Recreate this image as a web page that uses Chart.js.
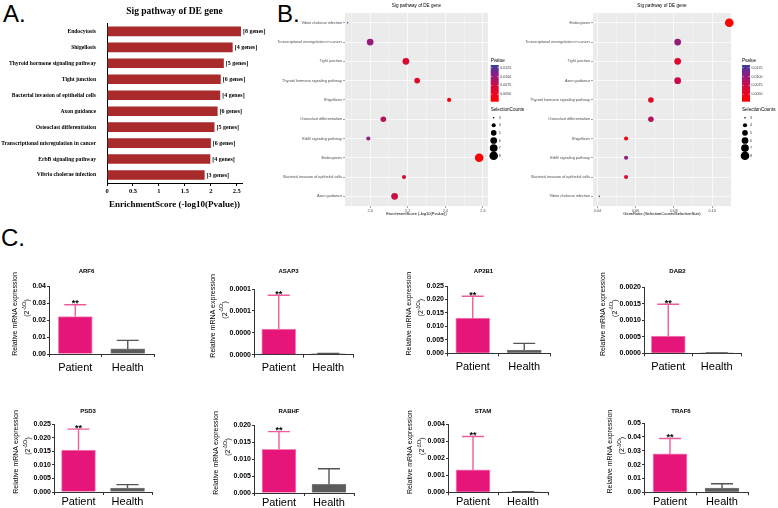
<!DOCTYPE html>
<html>
<head>
<meta charset="utf-8">
<script src="https://cdn.jsdelivr.net/npm/chart.js@4.4.0/dist/chart.umd.min.js"></script>
<style>
body { margin: 0; background: #fff; width: 778px; height: 508px; position: relative; overflow: hidden; font-family: "Liberation Sans", Arial, sans-serif; }
canvas { position: absolute; }
.tag { position: absolute; font-size: 24px; color: #000; line-height: 1; }
</style>
</head>
<body>
<div class="tag" style="left:3px;top:2px">A.</div>
<div class="tag" style="left:277px;top:2px">B.</div>
<div class="tag" style="left:1px;top:226px">C.</div>
<canvas id="chartA" width="270" height="215" style="left:0;top:0"></canvas>
<canvas id="chartB1" width="265" height="218" style="left:265px;top:0"></canvas>
<canvas id="chartB2" width="258" height="218" style="left:520px;top:0"></canvas>
<div id="cells"></div>
<script>
// pathway enrichment (panels A and B)
const pathways = ['Endocytosis', 'Shigellosis', 'Thyroid hormone signaling pathway', 'Tight junction',
    'Bacterial invasion of epithelial cells', 'Axon guidance', 'Osteoclast differentiation',
    'Transcriptional misregulation in cancer', 'ErbB signaling pathway', 'Vibrio cholerae infection'];
const enrichScore = [2.58, 2.42, 2.25, 2.19, 2.18, 2.13, 2.07, 2.00, 1.99, 1.88];
const geneCounts = [8, 4, 5, 6, 4, 6, 5, 6, 4, 3];
const pValues = [0.0026, 0.0038, 0.0056, 0.0065, 0.0066, 0.0074, 0.0085, 0.0100, 0.0102, 0.0132];
const geneRatio = [0.109, 0.055, 0.068, 0.082, 0.055, 0.082, 0.068, 0.082, 0.055, 0.041];
const enrichOrder = ['Vibrio cholerae infection', 'Transcriptional misregulation in cancer', 'Tight junction',
    'Thyroid hormone signaling pathway', 'Shigellosis', 'Osteoclast differentiation', 'ErbB signaling pathway',
    'Endocytosis', 'Bacterial invasion of epithelial cells', 'Axon guidance'];
const ratioOrder = ['Endocytosis', 'Transcriptional misregulation in cancer', 'Tight junction', 'Axon guidance',
    'Thyroid hormone signaling pathway', 'Osteoclast differentiation', 'Shigellosis', 'ErbB signaling pathway',
    'Bacterial invasion of epithelial cells', 'Vibrio cholerae infection'];
const scoreTicks = [0, 0.5, 1, 1.5, 2, 2.5];
const enrichTicks = [2.0, 2.2, 2.4, 2.6];
const enrichTickLabels = ['2.0', '2.2', '2.4', '2.6'];
const enrichMinor = [1.9, 2.1, 2.3, 2.5];
const ratioTicks = [0.04, 0.06, 0.08, 0.10];
const ratioTickLabels = ['0.04', '0.06', '0.08', '0.10'];
const ratioMinor = [0.05, 0.07, 0.09];
const pLegendTicks = [0.0125, 0.0100, 0.0075, 0.0050];
const pLegendLabels = ['0.0125', '0.0100', '0.0075', '0.0050'];
const countLegend = [3, 4, 5, 6, 7, 8];

// qPCR (panel C)
const genes = ['ARF6', 'ASAP3', 'AP2B1', 'DAB2', 'PSD3', 'RABHF', 'STAM', 'TRAF6'];
const groups = ['Patient', 'Health'];
const patientMean = [0.022, 0.0000584, 0.0131, 0.00052, 0.0154, 0.01285, 0.00131, 0.0277];
const patientSD = [0.007, 0.0000773, 0.0081, 0.00096, 0.0077, 0.0052, 0.00196, 0.0111];
const healthMean = [0.003, 0.000002, 0.0012, 0.00001, 0.0014, 0.00255, 0.00002, 0.0031];
const healthSD = [0.005, 0.000001, 0.0025, 0.000004, 0.0013, 0.0046, 0.00001, 0.0031];
const cTickValues = [
    [0, 0.01, 0.02, 0.03, 0.04],
    [0, 0.00005, 0.0001, 0.00015],
    [0, 0.005, 0.01, 0.015, 0.02, 0.025],
    [0, 0.0005, 0.001, 0.0015, 0.002],
    [0, 0.005, 0.01, 0.015, 0.02, 0.025],
    [0, 0.005, 0.01, 0.015, 0.02],
    [0, 0.001, 0.002, 0.003, 0.004],
    [0, 0.01, 0.02, 0.03, 0.04, 0.05]
];
const cTickLabels = [
    ['0.00', '0.01', '0.02', '0.03', '0.04'],
    ['0.0000', '0.0000', '0.0001', '0.0001'],
    ['0.000', '0.005', '0.010', '0.015', '0.020', '0.025'],
    ['0.0000', '0.0005', '0.0010', '0.0015', '0.0020'],
    ['0.000', '0.005', '0.010', '0.015', '0.020', '0.025'],
    ['0.000', '0.005', '0.010', '0.015', '0.020'],
    ['0.000', '0.001', '0.002', '0.003', '0.004'],
    ['0.00', '0.01', '0.02', '0.03', '0.04', '0.05']
];

const SANS = '"Liberation Sans", Arial, sans-serif';
const SERIF = '"Liberation Serif", "Times New Roman", serif';
Chart.defaults.font.family = SANS;
Chart.defaults.color = '#000';
Chart.defaults.animation = false;
Chart.defaults.responsive = false;
Chart.defaults.plugins.legend.display = false;
Chart.defaults.plugins.tooltip.enabled = false;

// ---------- Panel A ----------
const geneLabels = {
    id: 'geneLabels',
    afterDatasetsDraw(chart) {
        const ctx = chart.ctx;
        ctx.save();
        ctx.font = 'bold 6px ' + SERIF;
        ctx.fillStyle = '#000';
        ctx.textBaseline = 'middle';
        chart.getDatasetMeta(0).data.forEach((bar, i) => {
            ctx.fillText('[' + geneCounts[i] + ' genes]', bar.x + 2, bar.y + 0.5);
        });
        ctx.restore();
    }
};

new Chart(document.getElementById('chartA'), {
    type: 'bar',
    data: {
        labels: pathways,
        datasets: [{ data: enrichScore, backgroundColor: '#a82a2a', barPercentage: 0.6, categoryPercentage: 1 }]
    },
    options: {
        indexAxis: 'y',
        layout: { padding: { top: 0, right: 28, bottom: 0, left: 0 } },
        plugins: {
            title: {
                display: true, text: 'Sig pathway of DE gene', color: '#000', fullSize: false,
                font: { family: SERIF, size: 9.5, weight: 'bold' },
                padding: { top: 6, bottom: 6 }
            }
        },
        scales: {
            x: {
                min: 0, max: 2.6,
                afterBuildTicks: s => { s.ticks = scoreTicks.map(v => ({ value: v })); },
                afterFit: s => { s.height = 32; },
                ticks: { font: { family: SERIF, size: 6.5, weight: 'bold' }, padding: 1, color: '#000', callback: v => String(v) },
                grid: { drawOnChartArea: false, tickLength: 3, color: '#000' },
                border: { color: '#000' },
                title: { display: true, text: 'EnrichmentScore (-log10(Pvalue))', color: '#000',
                    font: { family: SERIF, size: 9, weight: 'bold' }, padding: { top: 0, bottom: 5 } }
            },
            y: {
                afterFit: s => { s.width = 107; },
                ticks: { font: { family: SERIF, size: 5.6, weight: 'bold' }, color: '#000', padding: 3, autoSkip: false },
                grid: { display: false },
                border: { color: '#000' }
            }
        }
    },
    plugins: [geneLabels]
});

// ---------- Panel B ----------
const P_TOP = 0.01326, P_BOT = 0.00291;
function pColor(p) {
    const t = Math.min(1, Math.max(0, (p - P_BOT) / (P_TOP - P_BOT)));
    const stops = [[0, [255, 0, 0]], [0.35, [220, 8, 50]], [0.6, [172, 20, 104]], [0.75, [136, 30, 136]], [1, [58, 62, 155]]];
    for (let k = 1; k < stops.length; k++) {
        if (t <= stops[k][0]) {
            const [t0, c0] = stops[k - 1], [t1, c1] = stops[k];
            const f = (t - t0) / (t1 - t0);
            return 'rgb(' + c0.map((c, j) => Math.round(c + (c1[j] - c) * f)).join(',') + ')';
        }
    }
    return 'rgb(58,62,155)';
}
function sizeFor(n) {
    const r0 = 0.8, r1 = 4.3;
    return Math.sqrt(r0 * r0 + (n - 3) / 5 * (r1 * r1 - r0 * r0));
}

const panelBg = {
    id: 'panelBg',
    beforeDraw(chart) {
        const a = chart.chartArea, ctx = chart.ctx;
        ctx.save();
        ctx.fillStyle = '#ebebeb';
        ctx.fillRect(a.left, a.top, a.right - a.left, a.bottom - a.top);
        ctx.restore();
    }
};

const pvLegend = {
    id: 'pvLegend',
    afterDraw(chart, args, o) {
        const ctx = chart.ctx, x = o.x;
        const top = 65, bot = 101.7, w = 8;
        ctx.save();
        ctx.fillStyle = '#000';
        ctx.textBaseline = 'middle';
        ctx.font = '4.6px ' + SANS;
        ctx.fillText('Pvalue', x, 61);
        const g = ctx.createLinearGradient(0, top, 0, bot);
        for (let k = 0; k <= 20; k++) g.addColorStop(k / 20, pColor(P_TOP - (P_TOP - P_BOT) * k / 20));
        ctx.fillStyle = g;
        ctx.fillRect(x, top, w, bot - top);
        ctx.font = '3.6px ' + SANS;
        pLegendTicks.forEach((p, i) => {
            const y = top + (P_TOP - p) / (P_TOP - P_BOT) * (bot - top);
            ctx.strokeStyle = '#fff';
            ctx.lineWidth = 0.5;
            ctx.beginPath();
            ctx.moveTo(x, y); ctx.lineTo(x + 1.5, y);
            ctx.moveTo(x + w - 1.5, y); ctx.lineTo(x + w, y);
            ctx.stroke();
            ctx.fillStyle = '#333';
            ctx.fillText(pLegendLabels[i], x + w + 1.5, y);
        });
        ctx.fillStyle = '#000';
        ctx.font = '4.6px ' + SANS;
        ctx.fillText('SelectionCounts', x, 110);
        ctx.font = '3.6px ' + SANS;
        countLegend.forEach((n, i) => {
            const y = 117.7 + i * 7.6;
            ctx.fillStyle = '#000';
            ctx.beginPath();
            ctx.arc(x + 3, y, sizeFor(n), 0, Math.PI * 2);
            ctx.fill();
            ctx.fillStyle = '#333';
            ctx.fillText(String(n), x + 8, y);
        });
        ctx.restore();
    }
};

function bubbleChart(id, order, xValues, xMin, xMax, majors, majorLabels, minors, xTitle, yWidth, padRight, legendX) {
    const idx = order.map(name => pathways.indexOf(name));
    const allTicks = majors.concat(minors).sort((a, b) => a - b);
    new Chart(document.getElementById(id), {
        type: 'bubble',
        data: {
            labels: order,
            datasets: [{
                data: idx.map(i => ({ x: xValues[i], y: pathways[i], r: sizeFor(geneCounts[i]) })),
                backgroundColor: idx.map(i => pColor(pValues[i])),
                borderWidth: 0,
                clip: false
            }]
        },
        options: {
            layout: { padding: { top: 0, right: padRight, bottom: 0, left: 0 } },
            plugins: {
                title: {
                    display: true, text: 'Sig pathway of DE gene', fullSize: false, color: '#000',
                    font: { size: 4.6, weight: 'normal' }, padding: { top: 3.3, bottom: 4.3 }
                },
                pvLegend: { x: legendX }
            },
            scales: {
                x: {
                    type: 'linear', min: xMin, max: xMax,
                    afterBuildTicks: s => { s.ticks = allTicks.map(v => ({ value: v })); },
                    afterFit: s => { s.height = 12; },
                    ticks: {
                        font: { size: 3.8 }, color: '#4d4d4d', padding: 0.5, autoSkip: false, maxRotation: 0,
                        callback: v => { const k = majors.indexOf(v); return k < 0 ? '' : majorLabels[k]; }
                    },
                    grid: {
                        color: '#fff',
                        lineWidth: c => (c.tick && majors.includes(c.tick.value)) ? 0.7 : 0.35,
                        tickColor: c => (c.tick && majors.includes(c.tick.value)) ? '#444' : 'rgba(0,0,0,0)',
                        tickLength: 2, tickWidth: 0.5
                    },
                    border: { display: false },
                    title: { display: true, text: xTitle, color: '#000', font: { size: 4 }, padding: { top: 0, bottom: 1.6 } }
                },
                y: {
                    type: 'category', offset: true,
                    afterFit: s => { s.width = yWidth; },
                    ticks: { font: { size: 3.8 }, color: '#4d4d4d', padding: 1, autoSkip: false },
                    grid: { offset: false, color: '#fff', lineWidth: 0.7, tickColor: '#444', tickLength: 2, tickWidth: 0.5 },
                    border: { display: false }
                }
            }
        },
        plugins: [panelBg, pvLegend]
    });
}

bubbleChart('chartB1', enrichOrder, enrichScore, 1.866, 2.627, enrichTicks, enrichTickLabels, enrichMinor,
    'EnrichmentScore (-log10(Pvalue))', 80, 265 - 223, 225.7);
bubbleChart('chartB2', ratioOrder, geneRatio, 0.0377, 0.1099, ratioTicks, ratioTickLabels, ratioMinor,
    'GeneRatio (SelectionCounts/SelectionSize)', 73, 258 - 211, 222);

// ---------- Panel C ----------
const cellAreas = [
    { l: 49, t: 286, r: 154, b: 354 },
    { l: 254, t: 289, r: 353, b: 354.7 },
    { l: 447, t: 286, r: 550, b: 353.3 },
    { l: 644, t: 287, r: 741, b: 353.3 },
    { l: 54, t: 424, r: 152, b: 492 },
    { l: 254, t: 425, r: 354, b: 493 },
    { l: 448, t: 424, r: 548, b: 492.3 },
    { l: 644, t: 423, r: 748, b: 492.3 }
];
const colLeft = [0, 195, 390, 585];
const rowTop = [255, 395];
const rowHeight = [125, 113];
const rowTitleY = [271, 411.5];
const rowLabelPad = [4, 0];

const errorBars = {
    id: 'errorBars',
    afterDatasetsDraw(chart, args, o) {
        const ctx = chart.ctx, y = chart.scales.y;
        chart.getDatasetMeta(0).data.forEach((bar, j) => {
            const top = y.getPixelForValue(o.means[j] + o.errs[j]);
            ctx.save();
            ctx.strokeStyle = o.colors[j];
            ctx.lineWidth = 1.4;
            ctx.beginPath();
            ctx.moveTo(bar.x, bar.y);
            ctx.lineTo(bar.x, top);
            ctx.moveTo(bar.x - 11, top);
            ctx.lineTo(bar.x + 11, top);
            ctx.stroke();
            if (j === 0) {
                ctx.fillStyle = '#000';
                ctx.font = 'bold 9px ' + SANS;
                ctx.textAlign = 'center';
                ctx.textBaseline = 'alphabetic';
                ctx.fillText('**', bar.x, top + 1.5);
            }
            ctx.restore();
        });
    }
};

const cellText = {
    id: 'cellText',
    afterDraw(chart, args, o) {
        const ctx = chart.ctx, a = chart.chartArea;
        ctx.save();
        ctx.fillStyle = '#000';
        ctx.textAlign = 'center';
        ctx.textBaseline = 'middle';
        ctx.font = 'bold 6px ' + SANS;
        ctx.fillText(o.title, (a.left + a.right) / 2 - 15, o.titleY);
        // y-axis title, two rotated lines
        ctx.font = 'bold 7px ' + SANS;
        const maxW = Math.max(...o.tickLabels.map(s => ctx.measureText(s).width));
        const x1 = a.left - 4 - maxW - 16;
        const x2 = x1 + 12;
        const cy = (a.top + a.bottom) / 2;
        ctx.font = '7px ' + SANS;
        ctx.translate(x1, cy - 6);
        ctx.rotate(-Math.PI / 2);
        ctx.fillText('Relative mRNA expression', 0, 0);
        ctx.rotate(Math.PI / 2);
        ctx.translate(x2 - x1, -6);
        ctx.rotate(-Math.PI / 2);
        ctx.textAlign = 'left';
        ctx.font = '7px ' + SANS;
        const wa = ctx.measureText('(2').width, wc = ctx.measureText(')').width;
        ctx.font = '4.5px ' + SANS;
        const wb = ctx.measureText('-ΔCt').width;
        let sx = -(wa + wb + wc) / 2;
        ctx.font = '7px ' + SANS;
        ctx.fillText('(2', sx, 0);
        sx += wa;
        ctx.font = '4.5px ' + SANS;
        ctx.fillText('-ΔCt', sx, -2.6);
        sx += wb;
        ctx.font = '7px ' + SANS;
        ctx.fillText(')', sx, 0);
        ctx.restore();
    }
};

genes.forEach((gene, g) => {
    const col = g % 4, row = Math.floor(g / 4);
    const a = cellAreas[g];
    const left = colLeft[col], top = rowTop[row];
    const width = col === 3 ? 193 : 195, height = rowHeight[row];
    const cv = document.createElement('canvas');
    cv.width = width;
    cv.height = height;
    cv.style.left = left + 'px';
    cv.style.top = top + 'px';
    document.getElementById('cells').appendChild(cv);
    new Chart(cv, {
        type: 'bar',
        data: {
            labels: groups,
            datasets: [{
                data: [patientMean[g], healthMean[g]],
                backgroundColor: ['#e5157a', '#5b5b5b'],
                borderColor: ['#f38ab8', '#7a7a7a'],
                borderWidth: 1,
                barThickness: 34
            }]
        },
        options: {
            layout: { padding: { top: a.t - top, right: left + width - a.r, bottom: 0, left: 0 } },
            plugins: {
                errorBars: { means: [patientMean[g], healthMean[g]], errs: [patientSD[g], healthSD[g]], colors: ['#ef5c9c', '#555'] },
                cellText: { title: gene, titleY: rowTitleY[row] - top, tickLabels: cTickLabels[g] }
            },
            scales: {
                x: {
                    afterFit: s => { s.height = top + height - a.b; },
                    ticks: { font: { size: 11 }, color: '#000', padding: rowLabelPad[row] },
                    grid: { drawOnChartArea: false, tickLength: 3, color: '#333' },
                    border: { color: '#333', width: 1 }
                },
                y: {
                    min: 0, max: cTickValues[g][cTickValues[g].length - 1],
                    afterBuildTicks: s => { s.ticks = cTickValues[g].map(v => ({ value: v })); },
                    afterFit: s => { s.width = a.l - left; },
                    ticks: { font: { size: 7, weight: 'bold' }, color: '#000', padding: 1, callback: (v, i) => cTickLabels[g][i] },
                    grid: { drawOnChartArea: false, tickLength: 2, color: '#333' },
                    border: { color: '#333', width: 1 }
                }
            }
        },
        plugins: [errorBars, cellText]
    });
});
</script>
</body>
</html>
